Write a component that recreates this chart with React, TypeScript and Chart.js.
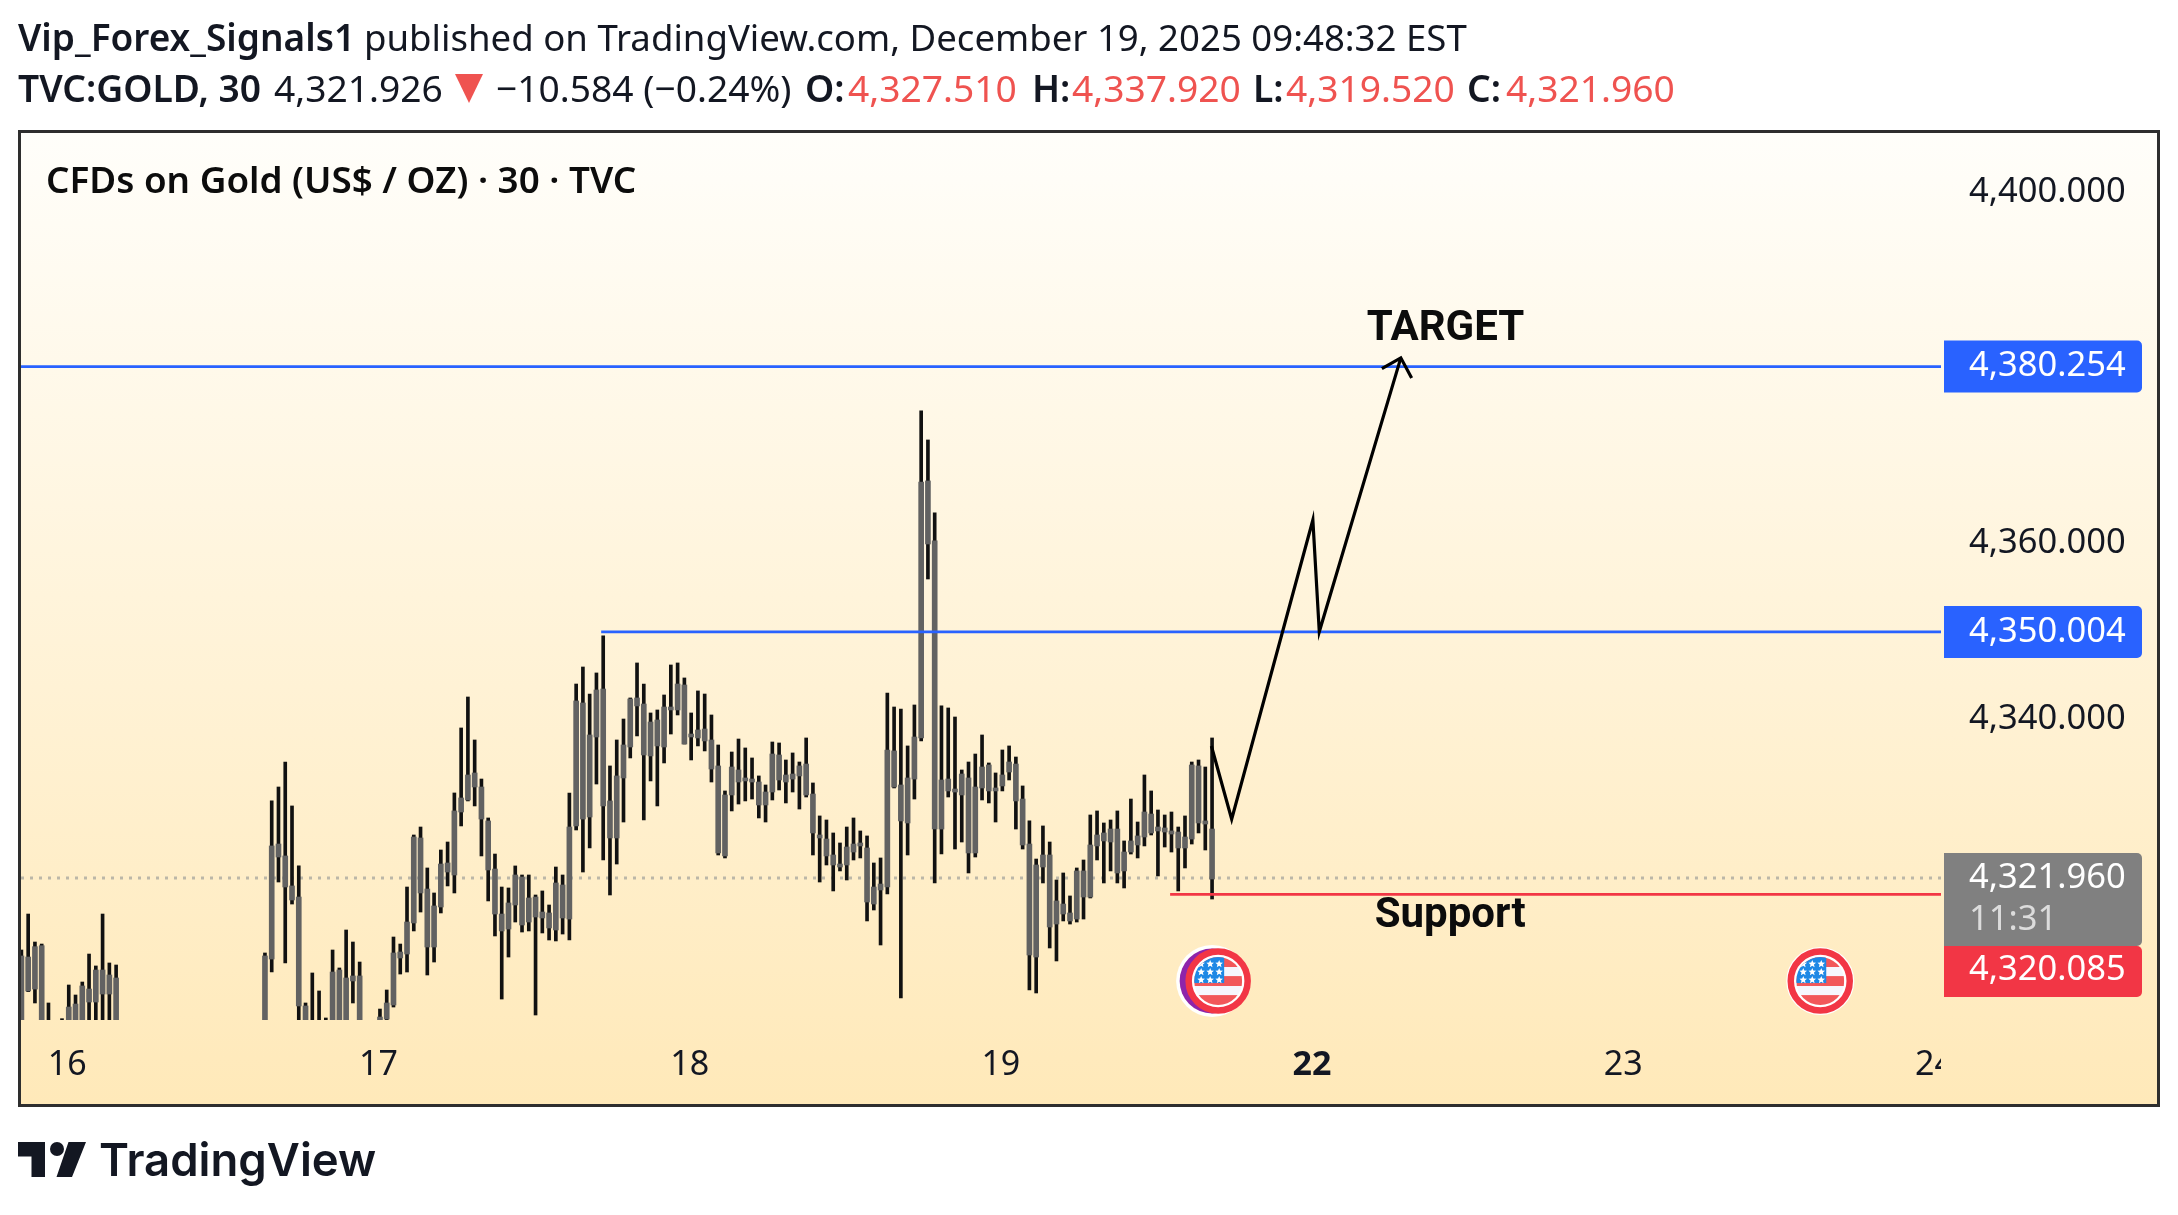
import { useEffect, useRef } from "react"
import { Chart, registerables } from "chart.js"

Chart.register(...registerables)

// 30 minute candles, index = bar number. null = bar lies below the visible pane
const highs = [
  4313.75, 4317.85, 4314.66, 4314.43, 4307.71, null, 4305.92, 4309.76, 4308.62, 4310.10,
  4313.29, 4311.93, 4317.85, 4312.27, 4312.04, null, null, null, null, null,
  null, null, null, null, null, null, null, null, null, null,
  null, null, null, null, null, null, 4313.41, 4330.74, 4332.33, 4335.18,
  4330.17, 4323.33, 4307.71, 4311.13, 4309.08, 4306.00, 4313.75, 4311.70, 4316.03, 4314.66,
  4312.38, null, null, 4307.02, 4309.19, 4315.23, 4314.43, 4320.93, 4326.86, 4327.77,
  4323.10, 4320.25, 4325.15, 4326.06, 4331.65, 4339.06, 4342.59, 4337.69, 4333.24, 4328.80,
  4324.69, 4320.93, 4320.82, 4323.33, 4322.30, 4322.30, 4320.02, 4320.48, 4318.88, 4323.21,
  4322.30, 4331.65, 4344.07, 4346.01, 4342.93, 4345.33, 4349.55, 4334.73, 4337.69, 4340.08,
  4342.48, 4346.47, 4344.07, 4340.77, 4341.11, 4342.82, 4346.24, 4346.47, 4344.76, 4340.77,
  4343.28, 4342.93, 4340.54, 4337.12, 4331.88, 4336.32, 4337.80, 4336.78, 4335.64, 4333.59,
  4332.56, 4337.46, 4337.35, 4335.41, 4336.21, 4335.18, 4337.92, 4332.79, 4329.03, 4328.57,
  4327.09, 4325.95, 4327.77, 4328.80, 4327.32, 4326.75, 4323.67, 4324.24, 4343.05, 4341.45,
  4341.22, 4337.01, 4341.68, 4375.20, 4371.89, 4363.57, 4341.57, 4341.34, 4340.31, 4334.27,
  4335.18, 4336.09, 4338.26, 4335.07, 4333.93, 4336.55, 4337.01, 4335.75, 4332.45, 4328.46,
  4324.12, 4327.89, 4326.06, 4321.73, 4322.53, 4319.91, 4323.10, 4324.01, 4329.14, 4329.60,
  4328.23, 4328.57, 4329.60, 4326.18, 4330.96, 4328.34, 4333.70, 4331.88, 4329.71, 4329.14,
  4329.48, 4327.77, 4329.03, 4335.18, 4335.41, 4334.61, 4337.92,
]
const bodyTops = [
  4313.07, 4312.95, 4314.13, 4314.24, 4305.58, null, 4305.58, 4307.25, 4307.59, 4309.65,
  4309.30, 4311.47, 4311.47, 4310.90, 4310.56, null, null, null, null, null,
  null, null, null, null, null, null, null, null, null, null,
  null, null, null, null, null, null, 4313.07, 4325.61, 4325.83, 4324.47,
  4321.05, 4319.79, 4307.37, 4305.58, 4305.58, 4305.58, 4311.24, 4311.47, 4310.56, 4310.79,
  4310.79, null, null, 4306.11, 4307.71, 4313.41, 4313.52, 4316.94, 4326.63, 4326.52,
  4320.70, 4318.77, 4323.55, 4323.67, 4329.60, 4331.08, 4333.70, 4333.93, 4332.33, 4328.46,
  4322.98, 4317.85, 4319.11, 4322.30, 4322.07, 4319.68, 4319.79, 4318.08, 4317.97, 4321.39,
  4321.16, 4327.77, 4342.14, 4341.91, 4338.26, 4343.39, 4343.50, 4330.74, 4333.59, 4337.12,
  4342.36, 4342.48, 4341.79, 4339.74, 4339.97, 4341.45, 4341.45, 4344.07, 4343.96, 4338.37,
  4338.83, 4338.94, 4337.69, 4334.73, 4331.42, 4334.61, 4334.27, 4333.36, 4333.24, 4332.90,
  4331.76, 4336.09, 4335.98, 4333.70, 4333.81, 4334.73, 4334.95, 4331.53, 4326.86, 4326.40,
  4324.58, 4323.55, 4325.49, 4325.83, 4325.95, 4325.38, 4320.93, 4321.27, 4336.55, 4336.44,
  4332.56, 4333.36, 4338.03, 4367.10, 4367.22, 4360.38, 4333.13, 4333.24, 4332.10, 4333.81,
  4333.36, 4332.33, 4334.61, 4334.84, 4332.22, 4333.70, 4335.18, 4334.95, 4330.96, 4325.83,
  4323.44, 4324.58, 4324.58, 4319.34, 4318.99, 4317.97, 4322.76, 4322.76, 4325.72, 4326.86,
  4327.09, 4327.54, 4327.54, 4324.92, 4326.18, 4326.75, 4329.48, 4329.25, 4327.77, 4327.66,
  4327.32, 4327.20, 4326.63, 4334.84, 4334.73, 4328.46, 4327.54,
]
const bodyBottoms = [
  4305.39, 4309.08, 4309.30, 4305.39, 4305.20, null, 4305.20, 4305.39, 4305.39, 4305.39,
  4307.82, 4307.82, 4308.73, 4308.73, 4305.58, null, null, null, null, null,
  null, null, null, null, null, null, null, null, null, null,
  null, null, null, null, null, null, 4305.39, 4312.72, 4324.35, 4320.93,
  4319.45, 4307.37, 4305.39, 4305.20, 4305.20, 4305.20, 4305.39, 4305.39, 4305.39, 4310.22,
  4305.39, null, null, 4305.39, 4305.88, 4307.48, 4312.84, 4313.29, 4316.83, 4320.25,
  4314.09, 4314.09, 4318.65, 4322.64, 4322.30, 4329.48, 4330.85, 4332.33, 4328.68, 4322.87,
  4317.85, 4315.92, 4316.14, 4318.88, 4316.60, 4316.94, 4317.51, 4317.40, 4316.26, 4316.03,
  4317.40, 4317.28, 4327.89, 4328.68, 4328.91, 4338.03, 4330.17, 4326.52, 4326.52, 4333.36,
  4336.89, 4341.57, 4335.98, 4335.87, 4337.01, 4336.89, 4341.11, 4341.11, 4337.23, 4338.03,
  4337.92, 4337.58, 4334.38, 4324.81, 4324.47, 4331.42, 4332.90, 4333.02, 4332.90, 4330.28,
  4330.28, 4331.76, 4333.13, 4332.90, 4333.24, 4333.59, 4331.42, 4327.09, 4326.52, 4324.47,
  4323.44, 4323.21, 4323.44, 4324.92, 4325.61, 4319.22, 4318.99, 4320.59, 4320.93, 4332.33,
  4328.46, 4328.23, 4333.24, 4337.92, 4360.03, 4327.54, 4327.54, 4331.88, 4331.76, 4331.42,
  4324.81, 4324.81, 4332.22, 4331.88, 4331.88, 4332.45, 4334.04, 4330.74, 4325.72, 4313.18,
  4312.95, 4323.21, 4316.37, 4316.71, 4317.85, 4317.06, 4317.28, 4319.79, 4319.79, 4325.61,
  4326.18, 4326.06, 4322.53, 4322.76, 4324.92, 4325.72, 4326.63, 4327.09, 4327.32, 4327.20,
  4326.97, 4325.38, 4325.38, 4326.40, 4328.23, 4328.11, 4321.84,
]
const lows = [
  4305.01, 4309.00, 4307.71, 4305.01, 4305.00, null, 4305.00, 4305.01, 4305.01, 4305.01,
  4305.39, 4305.39, 4305.39, 4305.39, 4305.01, null, null, null, null, null,
  null, null, null, null, null, null, null, null, null, null,
  null, null, null, null, null, null, 4305.01, 4311.24, 4321.50, 4312.27,
  4318.99, 4305.39, 4305.01, 4305.00, 4305.00, 4305.00, 4305.01, 4305.01, 4305.01, 4307.71,
  4305.01, null, null, 4305.01, 4305.77, 4307.25, 4311.01, 4311.24, 4315.92, 4318.08,
  4310.90, 4312.38, 4317.97, 4321.05, 4320.25, 4327.89, 4330.74, 4330.17, 4324.47, 4319.34,
  4315.35, 4308.16, 4312.95, 4316.94, 4315.80, 4315.92, 4306.34, 4315.69, 4314.89, 4314.78,
  4315.57, 4314.89, 4327.43, 4322.64, 4325.38, 4332.67, 4324.01, 4320.02, 4323.55, 4328.34,
  4335.64, 4338.15, 4328.57, 4333.02, 4330.17, 4335.07, 4338.37, 4340.54, 4337.23, 4335.41,
  4337.01, 4336.44, 4332.90, 4324.58, 4324.24, 4329.60, 4330.39, 4330.74, 4330.96, 4328.80,
  4328.34, 4330.85, 4331.99, 4330.51, 4331.76, 4329.82, 4331.19, 4324.58, 4321.50, 4323.44,
  4320.48, 4322.76, 4321.73, 4324.01, 4324.24, 4317.06, 4318.31, 4314.32, 4320.13, 4332.22,
  4308.28, 4324.58, 4330.96, 4337.58, 4356.04, 4321.39, 4324.69, 4331.19, 4325.26, 4326.06,
  4322.53, 4324.35, 4330.85, 4330.51, 4328.34, 4331.88, 4333.13, 4327.54, 4325.26, 4309.19,
  4308.85, 4321.39, 4313.98, 4312.50, 4317.06, 4316.71, 4316.94, 4317.28, 4319.68, 4324.01,
  4321.39, 4322.76, 4321.39, 4320.82, 4324.69, 4324.24, 4325.61, 4326.86, 4322.19, 4325.49,
  4324.92, 4320.48, 4323.10, 4325.83, 4327.09, 4325.15, 4319.56,
]

// axes
const dayBars = [7, 53, 99, 145, 191, 237, 283]
const dayLabels = ["16", "17", "18", "19", "22", "23", "24"]
const priceTicks = [4400, 4360, 4340]
const barMin = -0.06
const barMax = 283.75
const priceMin = 4305.77
const priceMax = 4406.88

// levels
const targetPrice = 4380.254
const resistancePrice = 4350.004
const supportPrice = 4320.085
const lastPrice = 4321.96
const resistanceFromBar = 85.7
const supportFromBar = 169.8
const countdown = "11:31"

// drawn arrow
const arrowBars = [175.9, 178.9, 190.9, 191.85, 203.9]
const arrowPrices = [4337.0, 4328.65, 4362.77, 4350.02, 4381.25]
const arrowHeadBars = [201.1, 203.9, 205.5]
const arrowHeadPrices = [4380.03, 4381.25, 4378.96]

// text notes and event flags
const targetNote = { text: "TARGET", bar: 210.5, price: 4383.29 }
const supportNote = { text: "Support", bar: 211.2, price: 4316.4 }
const flagBars = [176.9, 265.9]
const flagPrice = 4310.21

const BLUE = "#2962ff"
const RED = "#f23645"
const INK = "#131722"
const FONT = '"Noto Sans", sans-serif'

const fmt = (v: number) => v.toLocaleString("en-US", { minimumFractionDigits: 3, maximumFractionDigits: 3 })

function paperGradient(ctx: CanvasRenderingContext2D) {
  const g = ctx.createLinearGradient(0, 133, 0, 1104)
  g.addColorStop(0, "#fffefa")
  g.addColorStop(1, "#ffe9b9")
  return g
}

function star(ctx: CanvasRenderingContext2D, x: number, y: number, r: number) {
  ctx.beginPath()
  for (let i = 0; i < 10; i++) {
    const a = -Math.PI / 2 + (i * Math.PI) / 5
    const d = i % 2 ? r * 0.45 : r
    ctx.lineTo(x + Math.cos(a) * d, y + Math.sin(a) * d)
  }
  ctx.closePath()
  ctx.fill()
}

function usFlag(ctx: CanvasRenderingContext2D, x: number, y: number) {
  ctx.save()
  ctx.beginPath()
  ctx.arc(x, y, 24, 0, Math.PI * 2)
  ctx.clip()
  ctx.fillStyle = "#f2575a"
  ctx.fillRect(x - 24, y - 24, 48, 10)
  ctx.fillRect(x - 24, y - 5, 48, 10)
  ctx.fillRect(x - 24, y + 14, 48, 10)
  ctx.fillStyle = "#f6f6fd"
  ctx.fillRect(x - 24, y - 14, 48, 9)
  ctx.fillRect(x - 24, y + 5, 48, 9)
  ctx.fillStyle = "#1e88e5"
  ctx.fillRect(x - 24, y - 24, 30, 26)
  ctx.fillStyle = "#ffffff"
  for (const sy of [-17, -9, -1]) for (const sx of [-17, -8, 1]) star(ctx, x + sx, y + sy, 4)
  ctx.restore()
  ctx.strokeStyle = RED
  ctx.lineWidth = 6.5
  ctx.beginPath()
  ctx.arc(x, y, 29.5, 0, Math.PI * 2)
  ctx.stroke()
}

const paintPlugin = {
  id: "paint",
  beforeDraw(chart: Chart) {
    const { ctx } = chart
    ctx.save()
    ctx.fillStyle = paperGradient(ctx)
    ctx.fillRect(19, 131, 2140, 975)
    ctx.restore()
  },
  afterDatasetsDraw(chart: Chart) {
    // the last day label is cut off where the price axis begins
    const { ctx, chartArea } = chart
    ctx.save()
    ctx.fillStyle = paperGradient(ctx)
    ctx.fillRect(chartArea.right, chartArea.bottom + 1, 60, 70)
    ctx.restore()
  },
  afterDraw(chart: Chart) {
    const { ctx, scales } = chart
    const x = scales.x
    const y = scales.y
    ctx.save()

    // frame
    ctx.strokeStyle = "#2e2e2e"
    ctx.lineWidth = 3
    ctx.strokeRect(19.5, 131.5, 2139, 974)

    // pane title
    ctx.fillStyle = "#0c0c0c"
    ctx.textBaseline = "alphabetic"
    ctx.textAlign = "left"
    ctx.font = `600 36.8px ${FONT}`
    ctx.fillText("CFDs on Gold (US$ / OZ) · 30 · TVC", 46, 193)

    // notes
    ctx.textAlign = "center"
    ctx.font = "bold 42px Roboto"
    for (const note of [targetNote, supportNote]) {
      ctx.fillText(note.text, x.getPixelForValue(note.bar), y.getPixelForValue(note.price))
    }

    // event flags
    flagBars.forEach((bar, i) => {
      const fx = x.getPixelForValue(bar)
      const fy = y.getPixelForValue(flagPrice)
      if (i === 0) {
        ctx.fillStyle = "#ffffff"
        ctx.beginPath()
        ctx.arc(fx - 6, fy, 36, 0, Math.PI * 2)
        ctx.fill()
        ctx.fillStyle = "#8e24aa"
        ctx.beginPath()
        ctx.arc(fx - 6, fy, 32.5, 0, Math.PI * 2)
        ctx.fill()
      }
      ctx.fillStyle = "#ffffff"
      ctx.beginPath()
      ctx.arc(fx, fy, i === 0 ? 31 : 34, 0, Math.PI * 2)
      ctx.fill()
      usFlag(ctx, fx, fy)
    })

    // price tags
    const tag = (top: number, h: number, color: string) => {
      ctx.fillStyle = color
      ctx.beginPath()
      ctx.roundRect(1944, top, 198, h, [0, 5, 5, 0])
      ctx.fill()
    }
    const label = (text: string, cy: number, color = "#ffffff") => {
      ctx.fillStyle = color
      ctx.textAlign = "left"
      ctx.textBaseline = "middle"
      ctx.font = `34.5px ${FONT}`
      ctx.fillText(text, 1969, cy)
    }
    for (const level of [targetPrice, resistancePrice]) {
      const py = y.getPixelForValue(level)
      tag(py - 26, 52, BLUE)
      label(fmt(level), py)
    }
    const lastY = y.getPixelForValue(lastPrice)
    tag(lastY - 25, 93, "#808080")
    label(fmt(lastPrice), lastY)
    label(countdown, lastY + 42, "#dcdcdc")
    tag(lastY + 68, 51, RED)
    label(fmt(supportPrice), lastY + 92)
    ctx.restore()
  },
}

const flatLine = (price: number, fromBar: number) => [
  { x: fromBar, y: price },
  { x: barMax, y: price },
]

const Header = () => {
  const seg = (text: string, left: number, top: number, weight = 400, color = INK, size = 37.2) => (
    <span style={{ position: "absolute", left, top, fontWeight: weight, color, fontSize: size, whiteSpace: "nowrap" }}>{text}</span>
  )
  const red = "#ef5350"
  return (
    <div style={{ position: "absolute", left: 0, top: 0, fontFamily: FONT, lineHeight: "48px" }}>
      {seg("Vip_Forex_Signals1", 18, 13, 600, INK, 37)}
      {seg("published on TradingView.com, December 19, 2025 09:48:32 EST", 364, 13, 400, INK, 36.6)}
      {seg("TVC:GOLD, 30", 18, 64, 600)}
      {seg("4,321.926", 274, 64)}
      <svg width="28" height="29" style={{ position: "absolute", left: 455, top: 74 }}>
        <polygon points="0,0 28,0 14,29" fill={red} />
      </svg>
      {seg("−10.584 (−0.24%)", 496, 64)}
      {seg("O:", 805, 64, 600)}
      {seg("4,327.510", 848, 64, 400, red)}
      {seg("H:", 1032, 64, 600)}
      {seg("4,337.920", 1072, 64, 400, red)}
      {seg("L:", 1253, 64, 600)}
      {seg("4,319.520", 1286, 64, 400, red)}
      {seg("C:", 1467, 64, 600)}
      {seg("4,321.960", 1506, 64, 400, red)}
    </div>
  )
}

const Logo = () => (
  <div style={{ position: "absolute", left: 18, top: 1142, height: 35, color: INK }}>
    <svg width="68" height="35" viewBox="0 0 68 35" style={{ position: "absolute", left: 0, top: 0 }}>
      <path d="M0 0H27V35H13.5V14.5H0Z M50.5 0H68L54 35H38.5Z" fill={INK} />
      <circle cx="39" cy="7" r="7" fill={INK} />
    </svg>
    <span
      style={{
        position: "absolute",
        left: 81,
        top: -11,
        fontFamily: "Inter",
        fontWeight: 600,
        fontSize: 45.5,
        lineHeight: "58px",
        whiteSpace: "nowrap",
      }}
    >
      TradingView
    </span>
  </div>
)

export default function App() {
  const canvasRef = useRef<HTMLCanvasElement>(null)

  useEffect(() => {
    if (!canvasRef.current) return
    const bars = highs.map((_, i) => i).filter((i) => highs[i] !== null)

    const chart = new Chart(canvasRef.current, {
      type: "bar",
      data: {
        datasets: [
          {
            type: "line",
            data: arrowHeadBars.map((b, i) => ({ x: b, y: arrowHeadPrices[i] })),
            borderColor: "#000000",
            borderWidth: 3.2,
            pointRadius: 0,
            order: 0,
          },
          {
            type: "line",
            data: arrowBars.map((b, i) => ({ x: b, y: arrowPrices[i] })),
            borderColor: "#000000",
            borderWidth: 3.2,
            pointRadius: 0,
            order: 0,
          },
          {
            type: "line",
            data: flatLine(targetPrice, barMin),
            borderColor: BLUE,
            borderWidth: 2.8,
            pointRadius: 0,
            order: 1,
          },
          {
            type: "line",
            data: flatLine(resistancePrice, resistanceFromBar),
            borderColor: BLUE,
            borderWidth: 2.8,
            pointRadius: 0,
            order: 1,
          },
          {
            type: "line",
            data: flatLine(supportPrice, supportFromBar),
            borderColor: RED,
            borderWidth: 2.8,
            pointRadius: 0,
            order: 1,
          },
          {
            type: "bar",
            data: bars.map((i) => ({ x: i, y: [bodyBottoms[i], bodyTops[i]] })),
            backgroundColor: "#626262",
            barThickness: 5,
            grouped: false,
            order: 2,
          },
          {
            type: "bar",
            data: bars.map((i) => ({ x: i, y: [lows[i], highs[i]] })),
            backgroundColor: "#111111",
            barThickness: 3,
            grouped: false,
            order: 3,
          },
          {
            type: "line",
            data: flatLine(lastPrice, barMin),
            borderColor: "#bcb7a8",
            borderWidth: 3,
            borderDash: [3, 6],
            pointRadius: 0,
            order: 4,
          },
        ],
      } as any,
      options: {
        responsive: false,
        animation: false,
        devicePixelRatio: 1,
        events: [],
        layout: { padding: { left: 21, top: 133, right: 0, bottom: 0 } },
        plugins: { legend: { display: false }, tooltip: { enabled: false }, title: { display: false } },
        scales: {
          x: {
            type: "linear",
            min: barMin,
            max: barMax,
            offset: false,
            grid: { display: false, drawTicks: false },
            border: { display: false },
            afterBuildTicks: (axis: any) => {
              axis.ticks = dayBars.map((value) => ({ value }))
            },
            afterFit: (axis: any) => {
              axis.height = 195
            },
            ticks: {
              autoSkip: false,
              maxRotation: 0,
              padding: 25,
              labelOffset: -1.5,
              color: "#131722",
              font: (c: any) => ({
                family: FONT,
                size: 34,
                weight: c.tick && c.tick.value === 191 ? "bold" : "normal",
              }),
              callback: (v: any) => dayLabels[dayBars.indexOf(v)],
            },
          },
          y: {
            position: "right",
            min: priceMin,
            max: priceMax,
            grid: { display: false, drawTicks: false },
            border: { display: false },
            afterBuildTicks: (axis: any) => {
              axis.ticks = priceTicks.map((value) => ({ value }))
            },
            afterFit: (axis: any) => {
              axis.width = 237
            },
            ticks: {
              padding: 28,
              labelOffset: -1,
              color: "#131722",
              font: { family: FONT, size: 34.5 },
              callback: (v: any) => fmt(v),
            },
          },
        },
      } as any,
      plugins: [paintPlugin as any],
    })

    return () => chart.destroy()
  }, [])

  return (
    <div style={{ position: "absolute", left: 0, top: 0, width: 2178, height: 1215, background: "#fff", overflow: "hidden" }}>
      <canvas ref={canvasRef} width={2178} height={1215} style={{ display: "block" }} />
      <Header />
      <Logo />
    </div>
  )
}
